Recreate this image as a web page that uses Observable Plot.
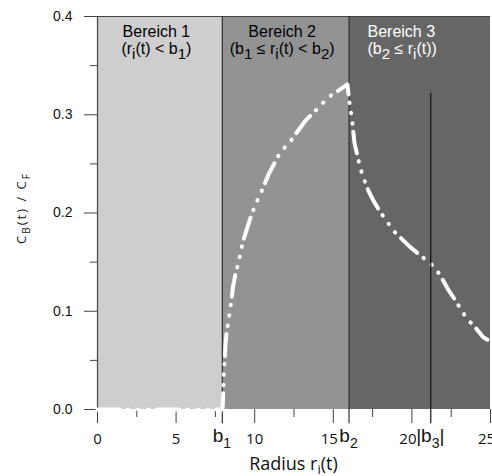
<!DOCTYPE html>
<html><head><meta charset="utf-8">
<script src="https://cdn.jsdelivr.net/npm/d3@7"></script>
<script src="https://cdn.jsdelivr.net/npm/@observablehq/plot@0.6"></script>
<style>
  html,body{margin:0;padding:0;background:#fff}
  #chart svg{display:block;overflow:visible}
  text{white-space:pre}
</style>
</head><body><div id="chart"></div>
<script>
// ---- data ----
const b1 = 7.94, b2 = 16.0, b3 = 21.2;
const b3Top = 0.322;
const regionTitle = ["Bereich 1", "Bereich 2", "Bereich 3"];
const regionStart = [0, b1, b2];
const regionEnd = [b1, b2, 25];
const regionFill = ["#cecece", "#939393", "#666666"];
const regionTextColor = ["#000", "#000", "#fff"];
const regionCond = [
  [["(r",0],["i",1],["(t) < b",0],["1",1],[")",0]],
  [["(b",0],["1",1],[" \u2264 r",0],["i",1],["(t) < b",0],["2",1],[")",0]],
  [["(b",0],["2",1],[" \u2264 r",0],["i",1],["(t))",0]]
];
const curveX = [0, 7.94, 7.97, 8.0, 8.03, 8.10, 8.14, 8.21, 8.35, 8.51, 8.63, 8.78, 8.99, 9.25, 9.73, 10.05, 10.41, 10.90, 11.64, 12.28, 12.77, 13.23, 13.98, 14.71, 15.46, 15.90, 16.01, 16.20, 16.35, 16.73, 17.16, 17.54, 17.94, 18.43, 18.85, 19.91, 20.91, 21.50, 21.93, 22.31, 22.77, 23.47, 23.98, 24.54, 24.81];
const curveY = [0, 0, 0.005, 0.018, 0.036, 0.052, 0.066, 0.078, 0.092, 0.110, 0.126, 0.138, 0.151, 0.171, 0.195, 0.209, 0.221, 0.240, 0.262, 0.273, 0.284, 0.294, 0.306, 0.318, 0.326, 0.331, 0.3145, 0.294, 0.271, 0.245, 0.225, 0.213, 0.202, 0.191, 0.1815, 0.165, 0.152, 0.144, 0.133, 0.122, 0.111, 0.093, 0.0845, 0.0736, 0.071];
const xMajorTicks = [0, 5, 10, 15, 20, 25];
const xMinorTicks = [2.5, 7.5, 12.5, 17.5, 22.5];
const xLabelsA = [0, 5, 10];
const xLabelsB = [15, 20];
const xLabelsC = [25];
const yMajorTicks = [0, 0.1, 0.2, 0.3, 0.4];
const yMinorTicks = [0.05, 0.15, 0.25, 0.35];
const bMarks = [b1, b2, b3];
const bLabels = [
  [["b",0],["1",1]],
  [["b",0],["2",1]],
  [["|b",0],["3",1],["|",0]]
];
const yLabelParts = [["C",0],["B",1],["(t) / C",0],["F",1]];
const xLabelParts = [["Radius r",0],["i",1],["(t)",0]];

// ---- build ----
const regions = regionTitle.map((t, i) => ({t, x1: regionStart[i], x2: regionEnd[i], fill: regionFill[i]}));
const curve = curveX.map((x, i) => ({x, y: curveY[i]}));
const below = -0.0145;

const plot = Plot.plot({
  width: 492, height: 476,
  marginLeft: 97, marginRight: 2, marginTop: 16, marginBottom: 67,
  x: {domain: [0, 25]},
  y: {domain: [0, 0.4]},
  color: {type: "identity"},
  style: {background: "white", fontFamily: "Liberation Sans, Arial, sans-serif", overflow: "visible"},
  marks: [
    Plot.rect(regions, {x1: "x1", x2: "x2", y1: () => 0, y2: () => 0.4, fill: "fill"}),
    Plot.ruleX([0], {y1: 0, y2: 0.4, stroke: "#444", strokeWidth: 1.2}),
    Plot.ruleY([0.4], {x1: 0, x2: 25, stroke: "#444", strokeWidth: 1.2}),
    Plot.ruleX([b1, b2], {y1: 0.4, y2: below, stroke: "#333", strokeWidth: 1.2}),
    Plot.axisY(yMajorTicks, {tickSize: 13, tickPadding: 12, tickFormat: d3.format(".1f"), fontSize: 14, stroke: "#444", fill: "#111", label: null}),
    Plot.axisY(yMinorTicks, {tickSize: 7, tickFormat: () => "", stroke: "#444", label: null}),
    Plot.axisX(xMajorTicks, {tickSize: 14, tickFormat: () => "", stroke: "#444", label: null}),
    Plot.axisX(xMinorTicks, {tickSize: 8, tickFormat: () => "", stroke: "#444", label: null}),
    Plot.line(curve, {x: "x", y: "y", stroke: "white", strokeWidth: 4, strokeLinecap: "round", strokeLinejoin: "round",
      strokeDasharray: "22,8,0.5,10,0.5,10,0.5,8"}),
    Plot.ruleX([b3], {y1: b3Top, y2: below, stroke: "#111", strokeWidth: 1.2}),
    Plot.text(xLabelsA, {x: d => d, y: () => 0, dy: 34, lineAnchor: "bottom", fontSize: 15, fontFamily: "Open Sans", fill: "#111"}),
    Plot.text(xLabelsB, {x: d => d, y: () => 0, dy: 34, dx: -4, lineAnchor: "bottom", fontSize: 15, fontFamily: "Open Sans", fill: "#111"}),
    Plot.text(xLabelsC, {x: d => d, y: () => 0, dy: 34, dx: -4, lineAnchor: "bottom", fontSize: 15, fontFamily: "Open Sans", fill: "#111"})
  ]
});
document.getElementById("chart").appendChild(plot);

// ---- rich text (sub-scripts) placed with the plot's own scales ----
const sx = plot.scale("x"), sy = plot.scale("y");
const svg = d3.select(plot);
const g = svg.append("g");
function richText(x, y, parts, o) {
  const t = g.append("text").attr("x", x).attr("y", y)
    .attr("text-anchor", o.anchor || "middle").attr("fill", o.fill || "#000")
    .attr("font-family", o.family).attr("font-size", o.size);
  if (o.rotate) t.attr("transform", `rotate(-90 ${x} ${y})`);
  if (o.spacing) t.attr("letter-spacing", o.spacing);
  let cur = 0;
  for (const [s, sub] of parts) {
    const target = sub ? o.shift : 0;
    t.append("tspan").attr("dy", target - cur).attr("font-size", sub ? o.subSize : o.size).text(s);
    cur = target;
  }
}
const yTopPx = sy.apply(0.4), yBasePx = sy.apply(0);
regions.forEach((r, i) => {
  const cx = (sx.apply(r.x1) + sx.apply(r.x2)) / 2 - 3;
  const left = sx.apply(r.x1) + 19;
  const x = i === 2 ? left : cx;
  const anchor = i === 2 ? "start" : "middle";
  richText(x, yTopPx + 21, [[r.t, 0]], {size: 16, family: "Liberation Sans", anchor, fill: regionTextColor[i]});
  richText(x, yTopPx + 38, regionCond[i], {size: 16, subSize: 15, shift: 5, family: "Liberation Sans", anchor, fill: regionTextColor[i]});
});
bMarks.forEach((b, i) => {
  richText(sx.apply(b), yBasePx + 33, bLabels[i], {size: 19, subSize: 14, shift: 6, family: "Liberation Sans", fill: "#111"});
});
richText((sx.apply(0) + sx.apply(25)) / 2, yBasePx + 61, xLabelParts, {size: 18, subSize: 13, shift: 4, family: "Open Sans", fill: "#111"});
richText(25.5, 208, yLabelParts, {size: 13, subSize: 10, shift: 4, family: "Open Sans", fill: "#111", rotate: true, spacing: 2});
</script>
</body></html>
